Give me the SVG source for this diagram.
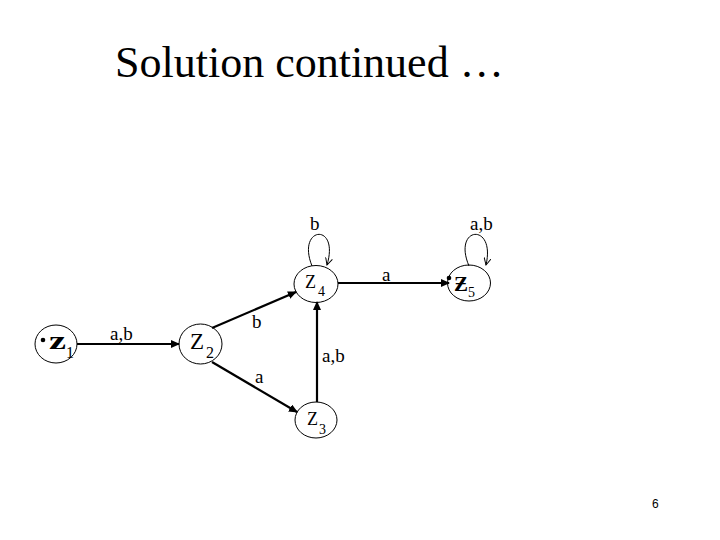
<svg xmlns="http://www.w3.org/2000/svg" width="720" height="540" viewBox="0 0 720 540" font-family="'Liberation Serif', 'Times New Roman', Times, 'DejaVu Serif', serif">
<defs>
<style>
text { font-family: "Liberation Serif", "Times New Roman", Times, "DejaVu Serif", serif; fill: #000; }
.title { font-size: 44px; }
.lbl { font-size: 19px; }
.st { fill: none; stroke: #000; stroke-width: 1; }
.edge { fill: none; stroke: #000; stroke-width: 2.2; }
.loop { fill: none; stroke: #000; stroke-width: 1; }
text.pg { font-family: "Liberation Sans", Arial, sans-serif; font-size: 12px; }
</style>
<marker id="ah" markerUnits="userSpaceOnUse" markerWidth="9" markerHeight="8" refX="8" refY="4" orient="auto">
<path d="M0,0 L9,4 L0,8 Z" fill="#000"/>
</marker>
<marker id="oh" markerUnits="userSpaceOnUse" markerWidth="8" markerHeight="8" refX="7" refY="4" orient="auto">
<path d="M0,0.5 L7,4 L0,7.5" fill="none" stroke="#000" stroke-width="1"/>
</marker>
</defs>
<rect width="720" height="540" fill="#fff"/>
<text class="title" x="115" y="77">Solution continued …</text>

<g id="connectors">
<line class="edge" x1="77" y1="344" x2="179" y2="344" marker-end="url(#ah)"/>
<line class="edge" x1="212" y1="328" x2="296" y2="292" marker-end="url(#ah)"/>
<line class="edge" x1="212" y1="362" x2="297" y2="412" marker-end="url(#ah)"/>
<line class="edge" x1="317" y1="402" x2="317" y2="302" marker-end="url(#ah)"/>
<line class="edge" x1="338" y1="283" x2="449" y2="283" marker-end="url(#ah)"/>
<path class="loop" d="M312,266 C296,226 340,222 327,265" marker-end="url(#oh)"/>
<path class="loop" d="M469,266 C452,226 496,222 486,265" marker-end="url(#oh)"/>
<text class="lbl" x="110" y="340">a,b</text>
<text class="lbl" x="252" y="328">b</text>
<text class="lbl" x="255" y="383">a</text>
<text class="lbl" x="322" y="362">a,b</text>
<text class="lbl" x="382" y="281">a</text>
<text class="lbl" x="310" y="230">b</text>
<text class="lbl" x="470" y="230">a,b</text>
</g>

<g id="z1">
<ellipse class="st" cx="56" cy="344" rx="21" ry="19"/>
<circle cx="43" cy="340" r="2.3" fill="#000"/>
<text x="49" y="349" font-size="25" font-weight="bold" textLength="17" lengthAdjust="spacingAndGlyphs">z</text>
<text x="66" y="358" font-size="16">1</text>
</g>

<g id="z2">
<ellipse class="st" cx="200.5" cy="344" rx="21.5" ry="20"/>
<text x="190" y="349" font-size="23">Z</text>
<text x="206" y="358" font-size="16">2</text>
</g>

<g id="z3">
<ellipse class="st" cx="316" cy="420" rx="21" ry="18"/>
<text x="307" y="425" font-size="18">Z</text>
<text x="319" y="434" font-size="14">3</text>
</g>

<g id="z4">
<ellipse class="st" cx="316" cy="284" rx="22" ry="18.5"/>
<text x="305" y="288" font-size="18">Z</text>
<text x="318" y="296" font-size="14">4</text>
</g>

<g id="z5">
<ellipse class="st" cx="469" cy="283" rx="21.5" ry="18"/>
<circle cx="449" cy="278" r="2.3" fill="#000"/>
<text x="454" y="291" font-size="21" font-weight="bold">Ƶ</text>
<text x="468" y="297" font-size="14">5</text>
</g>

<text class="pg" x="652" y="508">6</text>
</svg>
